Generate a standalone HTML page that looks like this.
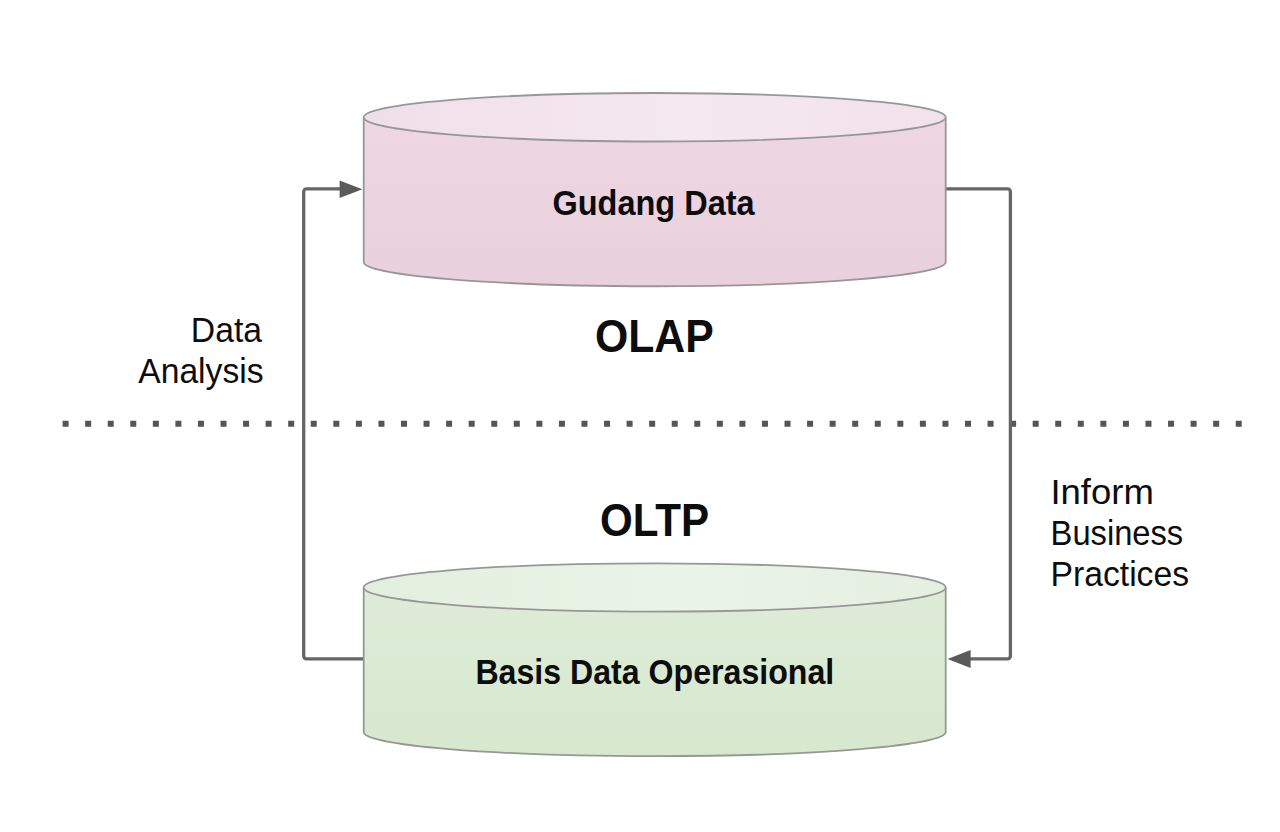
<!DOCTYPE html>
<html>
<head>
<meta charset="utf-8">
<style>
html,body{margin:0;padding:0;background:#fff;}
body{width:1280px;height:832px;overflow:hidden;}
svg{display:block;}
text{font-family:"Liberation Sans",sans-serif;fill:#0d0d0d;}
</style>
</head>
<body>
<svg width="1280" height="832" viewBox="0 0 1280 832" xmlns="http://www.w3.org/2000/svg">
<defs>
<linearGradient id="pinkTop" x1="0" y1="0" x2="1" y2="0">
<stop offset="0" stop-color="#f0dfe8"/>
<stop offset="0.55" stop-color="#f5e8ef"/>
<stop offset="1" stop-color="#f2e2ea"/>
</linearGradient>
<linearGradient id="pinkBody" x1="0" y1="0" x2="0" y2="1">
<stop offset="0" stop-color="#eed6e3"/>
<stop offset="1" stop-color="#e9d0dd"/>
</linearGradient>
<linearGradient id="greenTop" x1="0" y1="0" x2="1" y2="0">
<stop offset="0" stop-color="#e3efde"/>
<stop offset="0.55" stop-color="#eaf4e7"/>
<stop offset="1" stop-color="#e5f0e1"/>
</linearGradient>
<linearGradient id="greenBody" x1="0" y1="0" x2="0" y2="1">
<stop offset="0" stop-color="#deecd7"/>
<stop offset="1" stop-color="#d7e8cf"/>
</linearGradient>
</defs>
<rect width="1280" height="832" fill="#fff"/>

<!-- dotted divider -->
<line x1="62.6" y1="423.7" x2="1245" y2="423.7" stroke="#555" stroke-width="6" stroke-dasharray="6 16.56"/>

<!-- connectors -->
<path d="M363 658.9 H306.5 A2.8 2.8 0 0 1 303.7 656.1 V191.7 A2.8 2.8 0 0 1 306.5 188.9 H342" fill="none" stroke="#666" stroke-width="3.3"/>
<path d="M339.6 180.4 L362.3 189.2 L339.6 198 Z" fill="#5a5a5a"/>
<path d="M946 188.9 H1007.6 A2.8 2.8 0 0 1 1010.4 191.7 V656.1 A2.8 2.8 0 0 1 1007.6 658.9 H968" fill="none" stroke="#666" stroke-width="3.3"/>
<path d="M970.6 650.1 L947.6 659.1 L970.6 668.1 Z" fill="#5a5a5a"/>

<!-- top cylinder -->
<path d="M363.7 117.25 V262 A291 24.25 0 0 0 945.7 262 V117.25" fill="url(#pinkBody)" stroke="#979797" stroke-width="1.8"/>
<ellipse cx="654.7" cy="117.25" rx="291" ry="24.25" fill="url(#pinkTop)" stroke="#979797" stroke-width="1.8"/>

<!-- bottom cylinder -->
<path d="M363.7 587.5 V732 A291 24.2 0 0 0 945.7 732 V587.5" fill="url(#greenBody)" stroke="#979797" stroke-width="1.8"/>
<ellipse cx="654.7" cy="587.5" rx="291" ry="24.2" fill="url(#greenTop)" stroke="#979797" stroke-width="1.8"/>

<!-- texts -->
<text transform="translate(552.50 214.90) scale(0.9027 1)" font-size="36" font-weight="bold">Gudang Data</text>
<text transform="translate(594.97 351.70) scale(0.9294 1)" font-size="46" font-weight="bold">OLAP</text>
<text transform="translate(599.98 535.70) scale(0.9154 1)" font-size="46" font-weight="bold">OLTP</text>
<text transform="translate(475.41 684.40) scale(0.8927 1)" font-size="36" font-weight="bold">Basis Data Operasional</text>
<text transform="translate(190.87 341.60) scale(0.9630 1)" font-size="35" font-weight="normal">Data</text>
<text transform="translate(138.20 382.90) scale(0.9623 1)" font-size="35" font-weight="normal">Analysis</text>
<text transform="translate(1050.38 503.80) scale(1.0585 1)" font-size="34.5" font-weight="normal">Inform</text>
<text transform="translate(1050.61 545.30) scale(0.9474 1)" font-size="34.5" font-weight="normal">Business</text>
<text transform="translate(1050.55 586.00) scale(0.9763 1)" font-size="34.5" font-weight="normal">Practices</text>
</svg>
</body>
</html>
